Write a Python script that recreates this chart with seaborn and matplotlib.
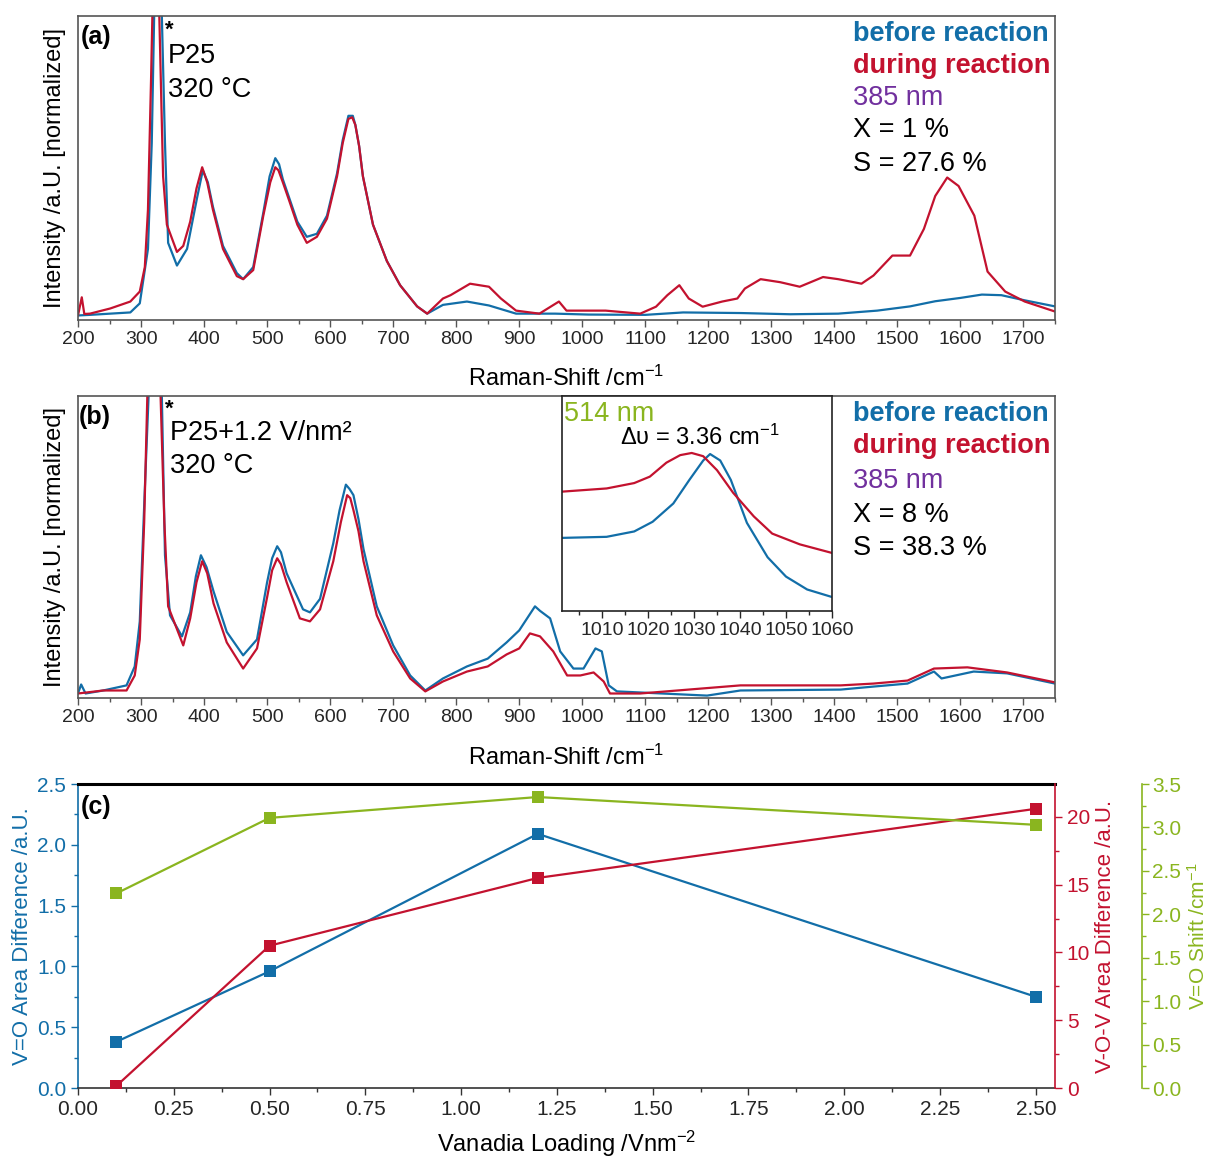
import numpy as np
import pandas as pd
import matplotlib
matplotlib.use("Agg")
import matplotlib.pyplot as plt
import seaborn as sns
from matplotlib.ticker import MultipleLocator

# colours
BLUE = "#126ea8"
RED = "#c3122f"
GREEN = "#8ab51f"
PURPLE = "#71309e"
FRAME = "#555555"

# panel (a): P25 (normalized intensity)
a_before_shift = [200, 219, 251, 283, 298, 311, 317, 324, 333, 338, 343, 357, 373, 389, 398,
                  406, 414, 430, 452, 462, 478, 494, 504, 513, 519, 525, 548, 563, 579, 595,
                  611, 620, 629, 636, 640, 646, 652, 668, 690, 711, 738, 754, 779, 817, 852,
                  895, 957, 1010, 1100, 1160, 1252, 1330, 1406, 1468, 1520, 1560, 1600, 1634, 1665, 1702,
                  1750]
a_before_int = [0.010, 0.012, 0.016, 0.020, 0.050, 0.23, 0.58, 1.35, 1.00, 0.58, 0.25, 0.175, 0.23, 0.40, 0.49,
                0.45, 0.37, 0.24, 0.15, 0.13, 0.17, 0.35, 0.47, 0.53, 0.51, 0.46, 0.32, 0.27, 0.28, 0.34,
                0.48, 0.59, 0.67, 0.67, 0.64, 0.57, 0.47, 0.31, 0.19, 0.11, 0.04, 0.016, 0.045, 0.056, 0.043,
                0.016, 0.016, 0.013, 0.012, 0.02, 0.018, 0.014, 0.016, 0.026, 0.04, 0.057, 0.068, 0.079, 0.077, 0.06,
                0.04]

a_during_shift = [200, 206, 210, 219, 251, 283, 298, 306, 311, 316, 322, 329, 335, 341, 357,
                  367, 378, 388, 397, 405, 414, 430, 452, 462, 478, 494, 505, 513, 518, 525,
                  535, 548, 563, 579, 595, 611, 620, 629, 635, 640, 646, 652, 668, 690, 711,
                  738, 754, 779, 791, 822, 852, 871, 895, 932, 963, 975, 1037, 1092, 1117, 1135,
                  1154, 1169, 1191, 1222, 1246, 1258, 1283, 1314, 1345, 1382, 1406, 1443, 1462, 1492, 1520,
                  1542, 1560, 1579, 1597, 1622, 1643, 1671, 1702, 1750]
a_during_int = [0.010, 0.070, 0.015, 0.016, 0.033, 0.056, 0.089, 0.17, 0.36, 0.80, 1.40, 1.00, 0.47, 0.31, 0.22,
                0.24, 0.32, 0.43, 0.50, 0.45, 0.36, 0.23, 0.14, 0.13, 0.16, 0.34, 0.45, 0.50, 0.49, 0.45,
                0.39, 0.31, 0.25, 0.27, 0.33, 0.47, 0.58, 0.66, 0.665, 0.64, 0.57, 0.47, 0.31, 0.19, 0.11,
                0.04, 0.016, 0.066, 0.077, 0.115, 0.105, 0.066, 0.026, 0.016, 0.056, 0.026, 0.026, 0.016, 0.039, 0.077,
                0.11, 0.066, 0.039, 0.056, 0.066, 0.099, 0.13, 0.12, 0.105, 0.137, 0.13, 0.115, 0.142, 0.208, 0.208,
                0.296, 0.405, 0.466, 0.438, 0.34, 0.155, 0.089, 0.056, 0.023]

# panel (b): P25+1.2 V/nm2
b_before_shift = [200, 205, 212, 240, 277, 290, 298, 306, 312, 320, 333, 338, 346, 365, 378,
                  387, 395, 404, 415, 436, 462, 484, 500, 508, 516, 522, 531, 557, 568, 584,
                  605, 615, 625, 631, 637, 645, 653, 674, 700, 727, 751, 779, 817, 850, 880,
                  900, 925, 933, 949, 965, 986, 1002, 1021, 1031, 1042, 1055, 1198, 1251, 1410, 1462,
                  1516, 1558, 1570, 1621, 1674, 1750]
b_before_int = [0.010, 0.040, 0.010, 0.020, 0.037, 0.10, 0.25, 0.69, 1.00, 1.40, 1.00, 0.47, 0.27, 0.20, 0.28,
                0.40, 0.47, 0.43, 0.35, 0.215, 0.137, 0.19, 0.38, 0.46, 0.50, 0.48, 0.41, 0.29, 0.28, 0.325,
                0.51, 0.62, 0.705, 0.69, 0.67, 0.59, 0.49, 0.30, 0.17, 0.07, 0.02, 0.06, 0.10, 0.126, 0.18,
                0.22, 0.30, 0.285, 0.26, 0.15, 0.093, 0.093, 0.16, 0.15, 0.037, 0.017, 0.003, 0.02, 0.023, 0.033,
                0.043, 0.083, 0.06, 0.083, 0.077, 0.043]

b_during_shift = [200, 240, 277, 290, 298, 305, 310, 318, 331, 337, 343, 367, 378, 388, 397,
                  405, 415, 436, 462, 484, 500, 508, 516, 522, 531, 552, 568, 584, 605, 617,
                  627, 632, 637, 645, 653, 674, 700, 727, 751, 779, 817, 850, 880, 900, 917,
                  933, 954, 976, 997, 1018, 1034, 1044, 1092, 1251, 1410, 1462, 1516, 1558, 1611, 1674,
                  1750]
b_during_int = [0.010, 0.020, 0.020, 0.070, 0.19, 0.58, 1.00, 1.40, 1.00, 0.58, 0.30, 0.17, 0.26, 0.38, 0.45,
                0.41, 0.31, 0.18, 0.093, 0.16, 0.33, 0.42, 0.46, 0.44, 0.38, 0.26, 0.25, 0.29, 0.45, 0.58,
                0.67, 0.66, 0.62, 0.55, 0.45, 0.27, 0.15, 0.06, 0.017, 0.05, 0.083, 0.10, 0.14, 0.16, 0.21,
                0.20, 0.15, 0.07, 0.07, 0.08, 0.05, 0.01, 0.01, 0.037, 0.037, 0.043, 0.053, 0.093, 0.097, 0.08,
                0.047]

# inset (514 nm, V=O band)
inset_before_shift = [1001.2, 1011, 1017, 1021, 1025.5, 1029, 1032, 1033.5, 1035.7, 1038, 1041.5, 1046, 1050, 1054.6, 1060]
inset_before_int = [0.34, 0.345, 0.37, 0.415, 0.50, 0.61, 0.70, 0.73, 0.70, 0.61, 0.41, 0.25, 0.16, 0.10, 0.065]
inset_during_shift = [1001.2, 1011, 1017, 1020.4, 1024, 1027, 1029.5, 1032, 1035, 1038.5, 1043, 1047, 1053, 1060]
inset_during_int = [0.555, 0.57, 0.595, 0.625, 0.69, 0.725, 0.735, 0.72, 0.655, 0.55, 0.44, 0.36, 0.31, 0.27]

# panel (c)
loading = [0.1, 0.5, 1.2, 2.5]
vo_area = [0.38, 0.96, 2.09, 0.75]
vov_area = [0.15, 10.5, 15.5, 20.6]
vo_shift = [2.24, 3.11, 3.35, 3.03]

sns.set_theme(style="ticks")
plt.rcParams["font.family"] = ["Liberation Sans", "DejaVu Sans"]
plt.rcParams["mathtext.fontset"] = "custom"
plt.rcParams["mathtext.rm"] = "Liberation Sans"
plt.rcParams["mathtext.it"] = "Liberation Sans:italic"
plt.rcParams["mathtext.bf"] = "Liberation Sans:bold"
plt.rcParams["text.color"] = "black"
plt.rcParams["axes.labelcolor"] = "black"

W, H = 1210, 1158
fig = plt.figure(figsize=(W / 100, H / 100), dpi=100)


def box(left, top, right, bottom):
    return [left / W, 1 - bottom / H, (right - left) / W, (bottom - top) / H]


def put(px, py, s, **kw):
    fig.text(px / W, 1 - py / H, s, va="baseline", ha="left", **kw)


def spectrum_axes(top, bottom, before, during):
    ax = fig.add_axes(box(78, top, 1055, bottom))
    sns.lineplot(x=before[0], y=before[1], ax=ax, color=BLUE, lw=1.6, estimator=None, sort=False)
    sns.lineplot(x=during[0], y=during[1], ax=ax, color=RED, lw=1.6, estimator=None, sort=False)
    ax.set_xlim(200, 1750)
    ax.set_ylim(-0.005, 1.0)
    ax.set_yticks([])
    ax.xaxis.set_major_locator(MultipleLocator(100))
    ax.xaxis.set_minor_locator(MultipleLocator(50))
    ax.tick_params(axis="x", which="major", direction="out", length=5, width=1, labelsize=14, color=FRAME, pad=3)
    ax.tick_params(axis="x", which="minor", direction="out", length=3, width=1, color=FRAME)
    for s in ax.spines.values():
        s.set_color(FRAME)
        s.set_linewidth(1.2)
    ax.set_xlabel("Raman-Shift /cm$^{-1}$", fontsize=17)
    ax.xaxis.label.set_va("baseline")
    ax.set_ylabel("Intensity /a.U. [normalized]", fontsize=17)
    ax.yaxis.label.set_va("center")
    return ax


# ---- panel (a)
ax_a = spectrum_axes(16, 320, (a_before_shift, a_before_int), (a_during_shift, a_during_int))
ax_a.xaxis.set_label_coords(0.5, -0.217)
ax_a.yaxis.set_label_coords(-0.0235, 0.5)
put(81, 44, "(a)", fontsize=18, fontweight="bold")
put(165, 36, "*", fontsize=16, fontweight="bold")
put(168, 63, "P25", fontsize=19.5)
put(168, 97, "320 °C", fontsize=19.5)
put(853, 41, "before reaction", fontsize=19.5, fontweight="bold", color=BLUE)
put(853, 73, "during reaction", fontsize=19.5, fontweight="bold", color=RED)
put(853, 105, "385 nm", fontsize=19.5, color=PURPLE)
put(853, 137, "X = 1 %", fontsize=19.5)
put(853, 171, "S = 27.6 %", fontsize=19.5)

# ---- panel (b)
ax_b = spectrum_axes(396, 698, (b_before_shift, b_before_int), (b_during_shift, b_during_int))
ax_b.xaxis.set_label_coords(0.5, -0.222)
ax_b.yaxis.set_label_coords(-0.0235, 0.5)
put(79, 424, "(b)", fontsize=18, fontweight="bold")
put(165, 415, "*", fontsize=16, fontweight="bold")
put(170, 440, "P25+1.2 V/nm²", fontsize=19.5)
put(170, 473, "320 °C", fontsize=19.5)
put(853, 421, "before reaction", fontsize=19.5, fontweight="bold", color=BLUE)
put(853, 453, "during reaction", fontsize=19.5, fontweight="bold", color=RED)
put(853, 488, "385 nm", fontsize=19.5, color=PURPLE)
put(853, 522, "X = 8 %", fontsize=19.5)
put(853, 555, "S = 38.3 %", fontsize=19.5)

# inset
ax_in = fig.add_axes(box(562, 396, 832, 611))
sns.lineplot(x=inset_before_shift, y=inset_before_int, ax=ax_in, color=BLUE, lw=1.6, estimator=None, sort=False)
sns.lineplot(x=inset_during_shift, y=inset_during_int, ax=ax_in, color=RED, lw=1.6, estimator=None, sort=False)
ax_in.set_xlim(1001.3, 1060)
ax_in.set_ylim(0, 1)
ax_in.set_yticks([])
ax_in.xaxis.set_major_locator(MultipleLocator(10))
ax_in.xaxis.set_minor_locator(MultipleLocator(5))
ax_in.tick_params(axis="x", which="major", direction="out", length=5, width=1, labelsize=14, pad=3)
ax_in.tick_params(axis="x", which="minor", direction="out", length=3, width=1)
for s in ax_in.spines.values():
    s.set_color("#222222")
    s.set_linewidth(1.2)
put(564, 421, "514 nm", fontsize=19.5, color=GREEN)
put(620, 445, "Δυ = 3.36 cm$^{-1}$", fontsize=17)

# ---- panel (c)
ax_c = fig.add_axes(box(78, 784, 1055, 1088))
ax_r = ax_c.twinx()
ax_g = ax_c.twinx()
ax_g.spines["right"].set_position(("outward", 63))

sns.lineplot(x=loading, y=vo_area, ax=ax_c, color=BLUE, marker="s", markersize=8,
             markeredgewidth=0, lw=1.6)
sns.lineplot(x=loading, y=vov_area, ax=ax_r, color=RED, marker="s", markersize=8,
             markeredgewidth=0, lw=1.6)
sns.lineplot(x=loading, y=vo_shift, ax=ax_g, color=GREEN, marker="s", markersize=8,
             markeredgewidth=0, lw=1.6)

ax_c.set_xlim(0, 2.55)
ax_c.set_ylim(0, 2.5)
ax_r.set_ylim(0, 22.43)
ax_g.set_ylim(0, 3.5)

ax_c.xaxis.set_major_locator(MultipleLocator(0.25))
ax_c.xaxis.set_minor_locator(MultipleLocator(0.125))
ax_c.yaxis.set_major_locator(MultipleLocator(0.5))
ax_c.yaxis.set_minor_locator(MultipleLocator(0.25))
ax_r.yaxis.set_major_locator(MultipleLocator(5))
ax_r.yaxis.set_minor_locator(MultipleLocator(2.5))
ax_g.yaxis.set_major_locator(MultipleLocator(0.5))
ax_g.yaxis.set_minor_locator(MultipleLocator(0.25))

for ax, col in [(ax_c, BLUE), (ax_r, RED), (ax_g, GREEN)]:
    ax.tick_params(axis="y", which="major", direction="out", length=5, width=1,
                   labelsize=15, color=col, labelcolor=col)
    ax.tick_params(axis="y", which="minor", direction="out", length=3, width=1, color=col)
ax_g.tick_params(axis="y", which="major", pad=2)
ax_c.tick_params(axis="x", which="major", direction="out", length=5, width=1, labelsize=15, color="#333333")
ax_c.tick_params(axis="x", which="minor", direction="out", length=3, width=1, color="#333333")

ax_c.spines["left"].set_color(BLUE)
ax_c.spines["left"].set_linewidth(1.2)
ax_c.spines["right"].set_visible(False)
ax_c.spines["top"].set_color("black")
ax_c.spines["top"].set_linewidth(2.2)
ax_c.spines["bottom"].set_color("#333333")
ax_c.spines["bottom"].set_linewidth(1.2)
for ax, col in [(ax_r, RED), (ax_g, GREEN)]:
    for side in ["top", "bottom", "left"]:
        ax.spines[side].set_visible(False)
    ax.spines["right"].set_color(col)
    ax.spines["right"].set_linewidth(1.2)

ax_c.set_xlabel("Vanadia Loading /Vnm$^{-2}$", fontsize=17)
ax_c.xaxis.label.set_va("baseline")
ax_c.xaxis.set_label_coords(0.5, -0.2105)
ax_c.set_ylabel("V=O Area Difference /a.U.", fontsize=16, color=BLUE)
ax_c.yaxis.label.set_va("center")
ax_c.yaxis.set_label_coords(-0.0573, 0.5)
ax_r.set_ylabel("V-O-V Area Difference /a.U.", fontsize=16, color=RED)
ax_r.yaxis.label.set_va("center")
ax_r.yaxis.set_label_coords(1.052, 0.5)
ax_g.set_ylabel("V=O Shift /cm$^{-1}$", fontsize=15, color=GREEN)
ax_g.yaxis.label.set_va("center")
ax_g.yaxis.set_label_coords(1.1465, 0.5)

put(81, 814, "(c)", fontsize=18, fontweight="bold")

fig.savefig("out.png", dpi=100)
